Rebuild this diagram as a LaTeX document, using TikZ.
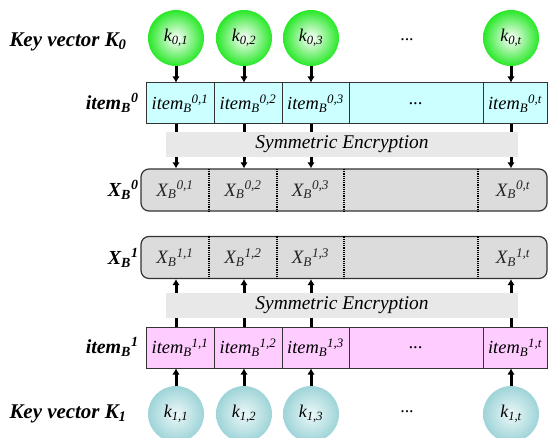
\documentclass[tikz,border=0pt]{standalone}
\usepackage{fontspec}
\setmainfont{Liberation Serif}
\usetikzlibrary{arrows.meta, positioning, calc}
\definecolor{keygreen}{RGB}{40,232,40}
\definecolor{keyteal}{RGB}{158,212,216}
\definecolor{keytealin}{RGB}{236,248,248}
\definecolor{rowcyan}{RGB}{204,255,255}
\definecolor{rowpink}{RGB}{255,204,255}
\definecolor{bandgray}{RGB}{232,232,232}
\definecolor{ciphergray}{RGB}{220,220,220}
\tikzset{
	key/.style={circle, minimum size=56bp, inner sep=0pt, shading=radial, font=\fontsize{18}{20}\selectfont\itshape},
	keyA/.style={key, inner color=white, outer color=keygreen},
	keyB/.style={key, inner color=keytealin, outer color=keyteal},
	cell/.style={draw=black!80, line width=1bp, minimum height=41bp, inner sep=0pt, font=\fontsize{18.5}{20}\selectfont\itshape},
	cellA/.style={cell, fill=rowcyan},
	cellB/.style={cell, fill=rowpink},
	band/.style={fill=bandgray, minimum width=352bp, minimum height=25bp, inner sep=0pt, font=\fontsize{19.5}{22}\selectfont\itshape},
	cipherrow/.style={draw=black!80, fill=ciphergray, line width=1.2bp, rounded corners=8bp, minimum width=406bp, minimum height=42bp, inner sep=0pt},
	ciphertext/.style={text=black!85, font=\fontsize{19}{22}\selectfont\itshape},
	divider/.style={line width=1.2bp, densely dotted},
	rowlabel/.style={anchor=east, font=\fontsize{20}{22}\selectfont\bfseries\itshape},
	flow/.style={draw, line width=3bp, -{Latex[length=6bp, width=7.5bp]}}
}
\begin{document}
\begin{tikzpicture}[x=1bp, y={(0bp,-1bp)}]
	\useasboundingbox (0,0) rectangle (548,438);
	
	% Key vector K_0 (top)
	\node[anchor=west, font=\fontsize{21}{24}\selectfont\bfseries\itshape] (lk0) at (6,42) {Key vector K\textsubscript{0}};
	\node[keyA] (k01) at (176,38) {k\textsubscript{0,1}};
	\node[keyA] (k02) at (244,38) {k\textsubscript{0,2}};
	\node[keyA] (k03) at (311,38) {k\textsubscript{0,3}};
	\node[font=\fontsize{18}{20}\selectfont] (kd0) at (407,40) {...};
	\node[keyA] (k0t) at (511,38) {k\textsubscript{0,t}};
	
	% Plain items, block 0
	\node[rowlabel] (li0) at (142,103) {item\textsubscript{B}\textsuperscript{0}};
	\node[cellA, minimum width=68bp] (i01) at (180,103.5) {item\textsubscript{B}\textsuperscript{0,1}};
	\node[cellA, minimum width=68bp] (i02) at (248,103.5) {item\textsubscript{B}\textsuperscript{0,2}};
	\node[cellA, minimum width=67bp] (i03) at (315.5,103.5) {item\textsubscript{B}\textsuperscript{0,3}};
	\node[cellA, minimum width=134bp] (i0d) at (416,103.5) {...};
	\node[cellA, minimum width=64bp] (i0t) at (515,103.5) {item\textsubscript{B}\textsuperscript{0,t}};
	
	% Keys into the items
	\draw[flow] (k01) -- (k01 |- i01.north);
	\draw[flow] (k02) -- (k02 |- i02.north);
	\draw[flow] (k03) -- (k03 |- i03.north);
	\draw[flow] (k0t) -- (k0t |- i0t.north);
	
	% Encrypted block 0
	\node[rowlabel] (lx0) at (142,190) {X\textsubscript{B}\textsuperscript{0}};
	\node[cipherrow] (x0) at (344,190) {};
	\foreach \d in {209,277,344,478}
		\draw[divider] (\d,169) -- (\d,211);
	\node[ciphertext] (x01) at (175,190) {X\textsubscript{B}\textsuperscript{0,1}};
	\node[ciphertext] (x02) at (243,190) {X\textsubscript{B}\textsuperscript{0,2}};
	\node[ciphertext] (x03) at (310.5,190) {X\textsubscript{B}\textsuperscript{0,3}};
	\node[ciphertext] (x0t) at (513,190) {X\textsubscript{B}\textsuperscript{0,t}};
	
	\draw[flow] (k01 |- i01.south) -- (k01 |- x0.north);
	\draw[flow] (k02 |- i02.south) -- (k02 |- x0.north);
	\draw[flow] (k03 |- i03.south) -- (k03 |- x0.north);
	\draw[flow] (k0t |- i0t.south) -- (k0t |- x0.north);
	
	% Encryption band over the arrows
	\node[band] (enc0) at (342,144.5) {Symmetric Encryption};
	
	% Encrypted block 1
	\node[rowlabel] (lx1) at (142,258) {X\textsubscript{B}\textsuperscript{1}};
	\node[cipherrow] (x1) at (344,257.5) {};
	\foreach \d in {209,277,344,478}
		\draw[divider] (\d,236.5) -- (\d,278.5);
	\node[ciphertext] (x11) at (175,257.5) {X\textsubscript{B}\textsuperscript{1,1}};
	\node[ciphertext] (x12) at (243,257.5) {X\textsubscript{B}\textsuperscript{1,2}};
	\node[ciphertext] (x13) at (310.5,257.5) {X\textsubscript{B}\textsuperscript{1,3}};
	\node[ciphertext] (x1t) at (513,257.5) {X\textsubscript{B}\textsuperscript{1,t}};
	
	% Plain items, block 1
	\node[rowlabel] (li1) at (142,347) {item\textsubscript{B}\textsuperscript{1}};
	\node[cellB, minimum width=68bp] (i11) at (180,347.5) {item\textsubscript{B}\textsuperscript{1,1}};
	\node[cellB, minimum width=68bp] (i12) at (248,347.5) {item\textsubscript{B}\textsuperscript{1,2}};
	\node[cellB, minimum width=67bp] (i13) at (315.5,347.5) {item\textsubscript{B}\textsuperscript{1,3}};
	\node[cellB, minimum width=134bp, text depth=-6bp] (i1d) at (416,347.5) {...};
	\node[cellB, minimum width=64bp] (i1t) at (515,347.5) {item\textsubscript{B}\textsuperscript{1,t}};
	
	% Key vector K_1 (bottom)
	\node[anchor=west, font=\fontsize{21}{24}\selectfont\bfseries\itshape] (lk1) at (6,414) {Key vector K\textsubscript{1}};
	\node[keyB] (k11) at (176,414) {k\textsubscript{1,1}};
	\node[keyB] (k12) at (244,414) {k\textsubscript{1,2}};
	\node[keyB] (k13) at (311,414) {k\textsubscript{1,3}};
	\node[font=\fontsize{18}{20}\selectfont] (kd1) at (407,412) {...};
	\node[keyB] (k1t) at (511,414) {k\textsubscript{1,t}};
	
	\draw[flow] (k11) -- (k11 |- i11.south);
	\draw[flow] (k12) -- (k12 |- i12.south);
	\draw[flow] (k13) -- (k13 |- i13.south);
	\draw[flow] (k1t) -- (k1t |- i1t.south);
	
	\draw[flow] (k11 |- i11.north) -- (k11 |- x1.south);
	\draw[flow] (k12 |- i12.north) -- (k12 |- x1.south);
	\draw[flow] (k13 |- i13.north) -- (k13 |- x1.south);
	\draw[flow] (k1t |- i1t.north) -- (k1t |- x1.south);
	
	\node[band] (enc1) at (342,305.5) {Symmetric Encryption};
\end{tikzpicture}
\end{document}
